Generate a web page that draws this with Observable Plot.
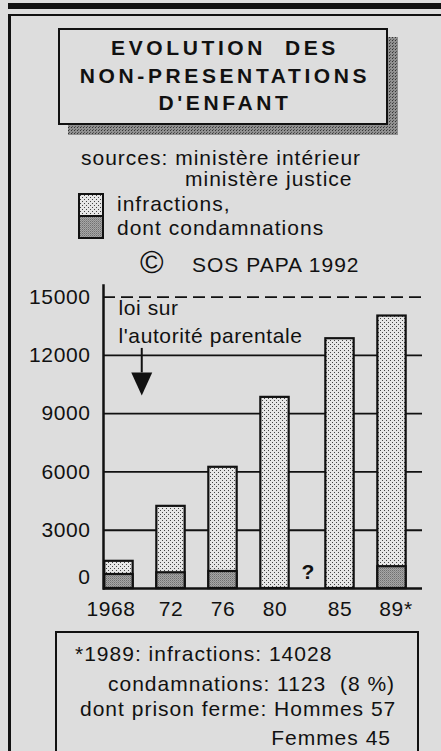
<!DOCTYPE html>
<html>
<head>
<meta charset="utf-8">
<script src="https://cdn.jsdelivr.net/npm/d3@7"></script>
<script src="https://cdn.jsdelivr.net/npm/@observablehq/plot@0.6"></script>
<style>
  html, body { margin: 0; padding: 0; }
  body {
    width: 441px; height: 751px; overflow: hidden; position: relative;
    background: #dddddd; color: #111;
    font-family: "Liberation Sans", Arial, sans-serif;
  }
  .abs { position: absolute; white-space: pre; line-height: 1; }
  .topbar { left: 8px; top: 3px; width: 433px; height: 6px; background: #111; }
  .frame { left: 8px; top: 14px; width: 460px; height: 800px; box-sizing: border-box;
           border-left: 3px solid #111; border-top: 2.5px solid #111; }
  .shadow { left: 68px; top: 37px; width: 330px; height: 98px; background-color: #777;
            background-image: url("data:image/svg+xml;utf8,<svg xmlns='http://www.w3.org/2000/svg' width='3' height='3'><rect width='3' height='3' fill='%23909090'/><rect x='0' y='0' width='1' height='1' fill='%23333'/><rect x='1' y='2' width='1' height='1' fill='%23555'/></svg>"); }
  .titlebox { left: 58px; top: 28px; width: 330px; height: 97px; box-sizing: border-box;
              border: 2.5px solid #111; background: #dddddd; }
  .title { font-weight: bold; font-size: 21px; letter-spacing: 3.6px; width: 330px; left: 60px; text-align: center; }
  .txt { font-size: 21px; letter-spacing: 1px; }
  .sw { left: 78px; width: 26px; box-sizing: border-box; border: 2px solid #111; }
  .light { background-image: url("data:image/svg+xml;utf8,<svg xmlns='http://www.w3.org/2000/svg' width='4' height='4'><rect width='4' height='4' fill='%23e6e6e6'/><rect x='0' y='0' width='1' height='1' fill='%23444'/><rect x='2' y='2' width='1' height='1' fill='%23444'/></svg>"); }
  .dark { background-image: url("data:image/svg+xml;utf8,<svg xmlns='http://www.w3.org/2000/svg' width='2' height='2'><rect width='2' height='2' fill='%23a6a6a6'/><rect x='0' y='0' width='1' height='1' fill='%23707070'/><rect x='1' y='1' width='1' height='1' fill='%238a8a8a'/></svg>"); }
  .note { left: 55px; top: 631px; width: 364px; height: 200px; box-sizing: border-box;
          border: 2.5px solid #111; }
  #chart { position: absolute; left: 0; top: 270px; }
</style>
</head>
<body>
<div class="abs topbar"></div>
<div class="abs frame"></div>
<div class="abs shadow"></div>
<div class="abs titlebox"></div>
<div class="abs title" id="t1" style="top:37px"></div>
<div class="abs title" id="t2" style="top:65px"></div>
<div class="abs title" id="t3" style="top:92px"></div>
<div class="abs txt" id="src1" style="left:81px;top:147px"></div>
<div class="abs txt" id="src2" style="left:185px;top:168px"></div>
<div class="abs sw light" style="top:193px;height:24px;"></div>
<div class="abs sw dark" style="top:215px;height:24px;"></div>
<div class="abs txt" id="leg1" style="left:117px;top:193px"></div>
<div class="abs txt" id="leg2" style="left:117px;top:217px"></div>
<div class="abs" id="copy" style="left:140px;top:246px;font-size:32px;"></div>
<div class="abs txt" id="credit" style="left:192px;top:254px"></div>
<div id="chart"></div>
<div class="abs note"></div>
<div class="abs txt" id="n1" style="left:75px;top:643px"></div>
<div class="abs txt" id="n2" style="left:108px;top:673px"></div>
<div class="abs txt" id="n3" style="left:80px;top:698px"></div>
<div class="abs txt" id="n4" style="right:50px;top:727px"></div>
<script>
// ---- texts ----
const titleLines = ["EVOLUTION  DES", "NON-PRESENTATIONS", "D'ENFANT"];
const sourceLines = ["sources: ministère intérieur", "ministère justice"];
const legendLabels = ["infractions,", "dont condamnations"];
const creditText = "SOS PAPA 1992";
const noteLines = [
  "*1989: infractions: 14028",
  "condamnations: 1123  (8 %)",
  "dont prison ferme: Hommes 57",
  "Femmes 45"
];

// ---- data ----
const years = [1968, 1972, 1976, 1980, 1985, 1989];
const yearLabels = ["1968", "72", "76", "80", "85", "89*"];
const infractions = [1400, 4230, 6240, 9840, 12860, 14028];
const condamnations = [720, 810, 875, null, null, 1123];
const gridTicks = [3000, 6000, 9000, 12000];
const limitTick = [15000];
const zeroTick = [0];
const lawText = ["loi sur", "l'autorité parentale"];
const lawTextY = [14060, 12620];
const lawYear = 1969.75;
const lawArrowY = [12360, 11100];
const lawArrowHeadY = 10530;
const unknownText = ["?"];
const unknownYear = [1982.55];
const unknownY = [820];

// fill HTML texts
["t1","t2","t3"].forEach((id, i) => document.getElementById(id).textContent = titleLines[i]);
document.getElementById("src1").textContent = sourceLines[0];
document.getElementById("src2").textContent = sourceLines[1];
document.getElementById("leg1").textContent = legendLabels[0];
document.getElementById("leg2").textContent = legendLabels[1];
document.getElementById("copy").textContent = "©";
document.getElementById("credit").textContent = creditText;
["n1","n2","n3","n4"].forEach((id, i) => document.getElementById(id).textContent = noteLines[i]);

const table = years.map((y, i) => ({year: y, label: yearLabels[i], infractions: infractions[i], condamnations: condamnations[i]}));
const condTable = table.filter(d => d.condamnations != null);
const lawTable = lawText.map((t, i) => ({text: t, y: lawTextY[i]}));
const unknownTable = unknownText.map((t, i) => ({text: t, x: unknownYear[i], y: unknownY[i]}));

const halfBar = 1.09;
const ink = "#111";
const fmt = d3.format("d");
const yearFmt = d => yearLabels[years.indexOf(d)];
const xAxisOpts = {tickSize: 0, tickPadding: 13, fontSize: 21, fill: ink, label: null, tickFormat: yearFmt};

const defs = () => {
  const el = document.createElementNS("http://www.w3.org/2000/svg", "defs");
  el.innerHTML = `
    <pattern id="dotsLight" patternUnits="userSpaceOnUse" width="4" height="4">
      <rect width="4" height="4" fill="#e6e6e6"/>
      <rect x="0" y="0" width="1" height="1" fill="#444"/>
      <rect x="2" y="2" width="1" height="1" fill="#444"/>
    </pattern>
    <pattern id="dotsDark" patternUnits="userSpaceOnUse" width="2" height="2">
      <rect width="2" height="2" fill="#a6a6a6"/>
      <rect x="0" y="0" width="1" height="1" fill="#707070"/>
      <rect x="1" y="1" width="1" height="1" fill="#8a8a8a"/>
    </pattern>`;
  return el;
};

const downTriangle = {
  draw(ctx, size) {
    const w = 10.5, h = 11.5;
    ctx.moveTo(-w, -h); ctx.lineTo(w, -h); ctx.lineTo(0, h); ctx.closePath();
  }
};

const chart = Plot.plot({
  width: 441,
  height: 360,
  marginLeft: 103,
  marginRight: 19,
  marginTop: 15,
  marginBottom: 42,
  style: {background: "transparent", overflow: "visible", fontFamily: "Liberation Sans, Arial, sans-serif", fontSize: "21px", color: ink, letterSpacing: "0.6px"},
  x: {type: "linear", domain: [1968, 1989], range: [118.5, 391.5]},
  y: {domain: [0, 15600]},
  marks: [
    defs,
    Plot.ruleY(gridTicks, {stroke: ink, strokeWidth: 1.8}),
    Plot.ruleY(limitTick, {stroke: ink, strokeWidth: 1.8, strokeDasharray: "12,6"}),
    Plot.rect(table, {x1: d => d.year - halfBar, x2: d => d.year + halfBar, y1: 0, y2: "infractions", fill: "url(#dotsLight)", stroke: ink, strokeWidth: 2.2}),
    Plot.rect(condTable, {x1: d => d.year - halfBar, x2: d => d.year + halfBar, y1: 0, y2: "condamnations", fill: "url(#dotsDark)", stroke: ink, strokeWidth: 2.2}),
    Plot.ruleY(zeroTick, {stroke: ink, strokeWidth: 2.5}),
    Plot.frame({anchor: "left", stroke: ink, strokeWidth: 2.5}),
    Plot.axisY([...gridTicks, ...limitTick], {tickSize: 0, tickPadding: 13, fontSize: 21, fill: ink, label: null, tickFormat: fmt}),
    Plot.axisY(zeroTick, {tickSize: 0, tickPadding: 13, fontSize: 21, fill: ink, dy: -11, label: null, tickFormat: fmt}),
    Plot.axisX(years.slice(0, 1), {...xAxisOpts, dx: -8}),
    Plot.axisX(years.slice(1, -1), xAxisOpts),
    Plot.axisX(years.slice(-1), {...xAxisOpts, dx: 4}),
    Plot.text(lawTable, {x: () => years[0], y: "y", text: "text", textAnchor: "start", lineAnchor: "bottom", fontSize: 21, fill: ink, dx: -0.5}),
    Plot.ruleX([lawYear], {y1: lawArrowY[0], y2: lawArrowY[1], stroke: ink, strokeWidth: 2}),
    Plot.dot([lawYear], {x: d => d, y: () => lawArrowHeadY, symbol: downTriangle, fill: ink, stroke: "none"}),
    Plot.text(unknownTable, {x: "x", y: "y", text: "text", fontWeight: "bold", fontSize: 21, fill: ink})
  ]
});
document.getElementById("chart").appendChild(chart);
</script>
</body>
</html>
